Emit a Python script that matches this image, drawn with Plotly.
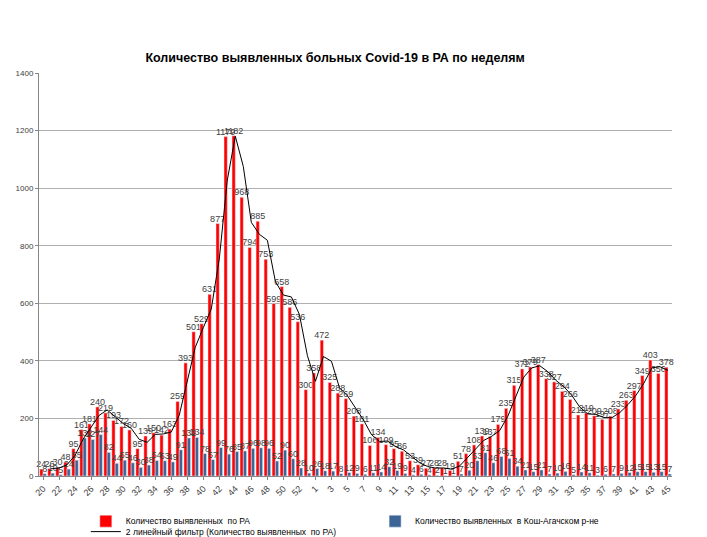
import plotly.graph_objects as go
import pandas as pd

weeks = list(range(20, 54)) + list(range(1, 46))

ra_cases = [24, 26, 30, 48, 95, 161, 181, 240, 219, 193, 172, 160, 95, 139, 150, 142, 163, 259,
            393, 501, 529, 631, 877, 1179, 1182, 968, 794, 885, 753, 599, 658, 586, 536, 300,
            358, 472, 325, 288, 269, 208, 181, 106, 134, 109, 95, 86, 53, 39, 27, 28, 28, 19,
            51, 78, 108, 139, 137, 179, 235, 315, 372, 379, 387, 338, 327, 294, 266, 212, 219,
            209, 197, 208, 233, 263, 297, 349, 403, 356, 378]

kosh_cases = [8, 10, 5, 24, 55, 132, 127, 144, 82, 44, 55, 46, 30, 38, 54, 53, 49, 91,
              132, 134, 78, 57, 99, 76, 85, 87, 96, 98, 96, 52, 90, 60, 28, 10,
              26, 18, 17, 8, 12, 9, 6, 11, 14, 32, 19, 9, 4, 6, 4, 2, 1, 1,
              7, 20, 53, 81, 46, 68, 61, 34, 21, 15, 21, 7, 10, 16, 5, 14, 11,
              3, 6, 7, 9, 12, 15, 15, 13, 15, 7]

title = "Количество выявленных больных Covid-19 в РА по неделям"
name_ra = "Количество выявленных  по РА"
name_kosh = "Количество выявленных  в Кош-Агачском р-не"
name_trend = "2 линейный фильтр (Количество выявленных  по РА)"

x = list(range(len(weeks)))
trend = pd.Series(ra_cases).rolling(2).mean().tolist()

label_font = dict(family="Liberation Sans", size=9, color="#404040")

fig = go.Figure()
fig.add_trace(go.Bar(
    x=x, y=ra_cases, name=name_ra, marker_color="#ff0000", legend="legend",
    text=ra_cases, textposition="outside", textangle=0, constraintext="none",
    cliponaxis=False, textfont=label_font, offsetgroup="a"))
fig.add_trace(go.Bar(
    x=x, y=kosh_cases, name=name_kosh, marker_color="#3c6496", legend="legend2",
    text=kosh_cases, textposition="outside", textangle=0, constraintext="none",
    cliponaxis=False, textfont=label_font, offsetgroup="b"))
fig.add_trace(go.Scatter(
    x=x, y=trend, name=name_trend, mode="lines", legend="legend3",
    line=dict(color="#000000", width=1)))

legend_font = dict(family="Liberation Sans", size=8.5, color="#000000")

def leg(xp, yp):
    return dict(orientation="h", x=xp, xanchor="left", y=yp, yanchor="middle",
                font=legend_font, itemwidth=30, bgcolor="rgba(0,0,0,0)")

fig.update_layout(
    width=699, height=529,
    paper_bgcolor="white", plot_bgcolor="white",
    margin=dict(l=31, r=35, t=65, b=61, autoexpand=False),
    title=dict(text="<b>" + title + "</b>", x=0.468, xanchor="center", y=0.907, yanchor="middle",
               font=dict(family="Liberation Sans", size=12.5, color="#000000")),
    barmode="group", bargap=0.18, bargroupgap=0.0,
    showlegend=True,
    legend=leg(0.074, -0.112),
    legend2=leg(0.531, -0.112),
    legend3=leg(0.074, -0.138),
    font=dict(family="Liberation Sans"),
)
fig.update_xaxes(
    range=[-0.5, len(weeks) - 0.5],
    tickmode="array", tickvals=x[::2], ticktext=[str(w) for w in weeks[::2]],
    tickangle=-45, tickfont=dict(family="Liberation Sans", size=9, color="#404040"),
    showline=True, linecolor="#868686", linewidth=1, showgrid=False,
    ticks="outside", ticklen=3, tickcolor="#868686")
fig.update_yaxes(
    range=[0, 1400], dtick=200,
    tickfont=dict(family="Liberation Sans", size=8, color="#404040"),
    showline=True, linecolor="#868686", linewidth=1,
    showgrid=True, gridcolor="#b0b0b0", gridwidth=1,
    ticks="outside", ticklen=3, tickcolor="#868686", zeroline=False)

fig.write_html("out.html")
